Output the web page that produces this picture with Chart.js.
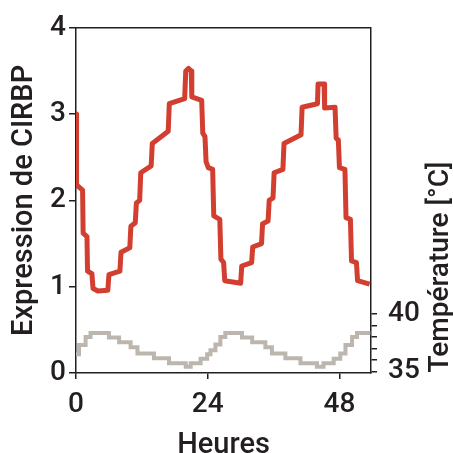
<!DOCTYPE html>
<html><head><meta charset="utf-8">
<script src="https://cdn.jsdelivr.net/npm/chart.js@4"></script>
<style>html,body{margin:0;padding:0;background:#fff}#wrap{width:453px;height:453px}</style>
</head><body><div id="wrap"><canvas id="c" width="453" height="453"></canvas></div>
<script>
// CIRBP expression (red), hours vs value
const cirbpHours = [0, 0.1, 1.2, 1.3, 2.0, 2.1, 2.9, 3.1, 4.0, 5.8, 6.0, 8.0, 8.2, 9.8, 10.0, 10.8, 11.0, 11.6, 11.8, 13.7, 13.9, 16.8, 17.0, 19.8, 20.0, 20.5, 21.0, 21.1, 22.9, 23.1, 23.5, 23.7, 24.1, 24.9, 25.1, 26.2, 26.4, 26.9, 27.1, 30.0, 30.2, 32.0, 32.2, 33.8, 34.0, 35.0, 35.2, 35.9, 36.1, 37.7, 37.9, 41.0, 41.2, 44.0, 44.1, 45.2, 45.3, 47.2, 47.4, 47.8, 48.0, 49.0, 49.2, 50.0, 50.2, 51.1, 51.3, 53.5];
const cirbpValues = [3.0, 2.18, 2.12, 1.62, 1.58, 1.18, 1.15, 0.98, 0.95, 0.96, 1.14, 1.18, 1.40, 1.45, 1.70, 1.74, 1.97, 2.0, 2.32, 2.40, 2.66, 2.80, 3.12, 3.18, 3.50, 3.53, 3.50, 3.20, 3.16, 2.78, 2.74, 2.45, 2.38, 2.36, 1.82, 1.78, 1.32, 1.28, 1.07, 1.04, 1.24, 1.28, 1.46, 1.50, 1.73, 1.76, 2.00, 2.03, 2.32, 2.36, 2.66, 2.76, 3.08, 3.12, 3.35, 3.35, 3.07, 3.08, 2.72, 2.70, 2.38, 2.36, 1.80, 1.78, 1.30, 1.28, 1.07, 1.03];
// Temperature (grey), step start hours vs °C
const tempHours = [0, 0.55, 1.75, 2.65, 6.0, 7.85, 9.95, 11.2, 14.2, 16.95, 20.0, 20.9, 22.7, 23.9, 24.5, 25.4, 26.3, 27.2, 30.25, 32.1, 34.5, 35.7, 38.15, 40.9, 43.9, 45.1, 46.95, 48.15, 49.1, 50.3, 51.2, 53.63];
const tempValues = [36.5, 37.3, 38.0, 38.35, 37.95, 37.55, 37.1, 36.55, 36.15, 35.7, 35.4, 35.7, 36.1, 36.5, 36.85, 37.35, 38.0, 38.35, 37.95, 37.55, 37.1, 36.55, 36.15, 35.7, 35.4, 35.7, 36.1, 36.55, 37.3, 38.0, 38.35, 38.35];
const xTicks = [0, 24, 48];
const leftTicks = [0, 1, 2, 3, 4];
const rightTicks = [35, 36, 37, 38, 39, 40];
const rightLabeled = [35, 40];
const xTitle = 'Heures';
const leftTitle = 'Expression de CIRBP';
const rightTitle = 'Température [°C]';

const INK = '#231f20';
const FONT = 'Roboto';
const W = 500;

const framePlugin = {
  id: 'frame',
  afterDraw(chart) {
    const {ctx, chartArea: a} = chart;
    ctx.save();
    ctx.strokeStyle = INK; ctx.lineWidth = 1.5;
    ctx.beginPath(); ctx.moveTo(a.left, a.top); ctx.lineTo(a.right, a.top); ctx.stroke();
    ctx.fillStyle = INK;
    ctx.font = W + ' 28px ' + FONT;
    ctx.textAlign = 'center'; ctx.textBaseline = 'middle';
    ctx.translate(441, 267); ctx.rotate(-Math.PI / 2);
    ctx.fillText(rightTitle, 0, 0);
    ctx.restore();
  }
};

const axisCommon = {
  grid: {display: true, drawOnChartArea: false, drawTicks: true, tickLength: 6, color: INK, lineWidth: 1.5},
  border: {display: true, color: INK, width: 1.5},
};

new Chart(document.getElementById('c'), {
  type: 'line',
  data: {
    datasets: [
      {
        label: 'Température',
        yAxisID: 'y2',
        data: tempHours.map((h, i) => ({x: h, y: tempValues[i]})),
        borderColor: '#bcb6af',
        borderWidth: 4,
        stepped: true,
        pointRadius: 0,
        fill: false
      },
      {
        label: 'CIRBP',
        yAxisID: 'y',
        data: cirbpHours.map((h, i) => ({x: h, y: cirbpValues[i]})),
        borderColor: '#d23f30',
        borderWidth: 5,
        pointRadius: 0,
        tension: 0,
        borderJoinStyle: 'round',
        fill: false
      }
    ]
  },
  options: {
    responsive: false,
    animation: false,
    devicePixelRatio: 1,
    layout: {padding: {top: 26, left: 0, right: 0, bottom: 0}},
    plugins: {legend: {display: false}, tooltip: {enabled: false}},
    scales: {
      x: {
        type: 'linear', position: 'bottom', min: 0, max: 53.75,
        ...axisCommon,
        afterBuildTicks: s => { s.ticks = xTicks.map(v => ({value: v})); },
        afterFit: s => { s.height = 80; },
        ticks: {color: INK, font: {family: FONT, size: 28, weight: W}, padding: 9, maxRotation: 0},
        title: {display: true, text: xTitle, color: INK, font: {family: FONT, size: 29, weight: W, lineHeight: 0.5}, padding: 0}
      },
      y: {
        type: 'linear', position: 'left', min: 0, max: 4,
        ...axisCommon,
        grid: {...axisCommon.grid, tickLength: 7},
        afterBuildTicks: s => { s.ticks = leftTicks.map(v => ({value: v})); },
        afterFit: s => { s.width = 76; },
        ticks: {color: INK, font: {family: FONT, size: 28, weight: W}, padding: 3},
        title: {display: true, text: leftTitle, color: INK, font: {family: FONT, size: 29, weight: W, lineHeight: 1}, padding: {top: 10, bottom: 0}}
      },
      y2: {
        type: 'linear', position: 'right', min: 34.85, max: 65.1,
        ...axisCommon,
        afterBuildTicks: s => { s.ticks = rightTicks.map(v => ({value: v})); },
        afterFit: s => { s.width = 82; },
        ticks: {color: INK, font: {family: FONT, size: 28, weight: W}, padding: 11,
          callback: v => rightLabeled.includes(v) ? String(v) : ''}
      }
    }
  },
  plugins: [framePlugin]
});
</script>
</body></html>
